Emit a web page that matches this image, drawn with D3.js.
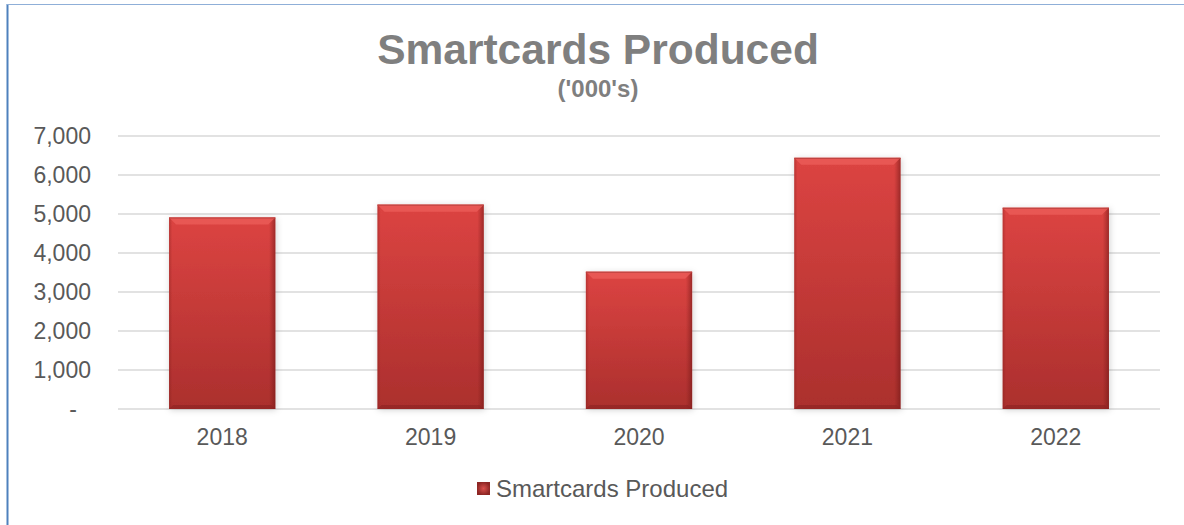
<!DOCTYPE html>
<html>
<head>
<meta charset="utf-8">
<script src="https://cdn.jsdelivr.net/npm/d3@7"></script>
<style>
html,body{margin:0;padding:0;background:#fff;}
svg{display:block;}
text{font-family:"Liberation Sans", Arial, sans-serif;}
</style>
</head>
<body>
<svg id="chart" width="1184" height="525"></svg>
<script>
const categories = ["2018", "2019", "2020", "2021", "2022"];
const values = [4910, 5240, 3520, 6440, 5160];
const yTicks = [0, 1000, 2000, 3000, 4000, 5000, 6000, 7000];
const seriesName = "Smartcards Produced";
const titleText = "Smartcards Produced";
const subtitleText = "('000's)";

const svg = d3.select("#chart");
const W = 1184, H = 525;
const m = {left: 118, right: 24, top: 136, bottom: 116};

const defs = svg.append("defs");
const grad = defs.append("linearGradient").attr("id","barGrad").attr("x1",0).attr("y1",0).attr("x2",0).attr("y2",1);
grad.append("stop").attr("offset","0%").attr("stop-color","#dc4442");
grad.append("stop").attr("offset","100%").attr("stop-color","#ab2f2d");
const hgrad = defs.append("linearGradient").attr("id","barH").attr("x1",0).attr("y1",0).attr("x2",1).attr("y2",0);
hgrad.append("stop").attr("offset","0%").attr("stop-color","#7a1a18").attr("stop-opacity",0.35);
hgrad.append("stop").attr("offset","3%").attr("stop-color","#7a1a18").attr("stop-opacity",0);
hgrad.append("stop").attr("offset","94%").attr("stop-color","#7a1a18").attr("stop-opacity",0);
hgrad.append("stop").attr("offset","100%").attr("stop-color","#6a1514").attr("stop-opacity",0.55);
const lgrad = defs.append("radialGradient").attr("id","legGrad");
lgrad.append("stop").attr("offset","0%").attr("stop-color","#d9504c");
lgrad.append("stop").attr("offset","100%").attr("stop-color","#8e2624");
const f = defs.append("filter").attr("id","shadow").attr("x","-20%").attr("y","-20%").attr("width","140%").attr("height","140%");
f.append("feDropShadow").attr("dx",1).attr("dy",1).attr("stdDeviation",3).attr("flood-color","#000").attr("flood-opacity",0.18);

// outer border
svg.append("line").attr("x1",7.5).attr("x2",7.5).attr("y1",4).attr("y2",H)
  .attr("stroke","#4f81bd").attr("stroke-width",2);
svg.append("line").attr("x1",7).attr("x2",W).attr("y1",4.5).attr("y2",4.5)
  .attr("stroke","#8fafd8").attr("stroke-width",1.2);

const x = d3.scaleBand().domain(categories).range([m.left, W - m.right]).paddingInner(0.49).paddingOuter(0.245);
const y = d3.scaleLinear().domain([0, 7000]).range([H - m.bottom, m.top]);

// gridlines
svg.append("g").selectAll("line").data(yTicks).join("line")
  .attr("x1", m.left).attr("x2", W - m.right)
  .attr("y1", d => y(d)).attr("y2", d => y(d))
  .attr("stroke", "#d9d9d9").attr("stroke-width", 1.5);

// y axis labels
const yAxis = d3.axisLeft(y).tickValues(yTicks).tickSize(0).tickPadding(0)
  .tickFormat(d => d === 0 ? "-" : d3.format(",")(d));
const ya = svg.append("g").attr("transform", `translate(91,0)`).call(yAxis);
ya.select(".domain").remove();
ya.selectAll("text").attr("font-size", 23).attr("fill", "#595959")
  .attr("font-family", "Liberation Sans, Arial, sans-serif")
  .attr("dx", d => d === 0 ? -14 : 0);

// bars
const bars = svg.append("g").selectAll("g").data(categories).join("g");
bars.append("rect")
  .attr("x", d => x(d)).attr("width", x.bandwidth())
  .attr("y", (d,i) => y(values[i])).attr("height", (d,i) => y(0) - y(values[i]))
  .attr("fill", "url(#barGrad)").attr("filter","url(#shadow)");
bars.append("rect")
  .attr("x", d => x(d)).attr("width", x.bandwidth())
  .attr("y", (d,i) => y(values[i])).attr("height", (d,i) => y(0) - y(values[i]))
  .attr("fill", "url(#barH)");
// top bevel
bars.append("path")
  .attr("d", (d,i) => {
    const x0 = x(d), x1 = x(d) + x.bandwidth(), t = y(values[i]), b = 7;
    return `M${x0},${t}L${x1},${t}L${x1-b},${t+b}L${x0+b},${t+b}Z`;
  })
  .attr("fill", "#ea5b57").attr("opacity", 0.85);
bars.append("line")
  .attr("x1", d => x(d)).attr("x2", d => x(d) + x.bandwidth())
  .attr("y1", (d,i) => y(values[i]) + 0.5).attr("y2", (d,i) => y(values[i]) + 0.5)
  .attr("stroke", "#b8403d").attr("stroke-width", 1);
// bottom dark edge
bars.append("path")
  .attr("d", (d,i) => {
    const x0 = x(d), x1 = x(d) + x.bandwidth(), bt = y(0), b = 4;
    return `M${x0},${bt}L${x1},${bt}L${x1-b},${bt-b}L${x0+b},${bt-b}Z`;
  })
  .attr("fill", "#8a2321").attr("opacity", 0.6);

// x axis labels
const xAxis = d3.axisBottom(x).tickSize(0).tickPadding(0);
const xa = svg.append("g").attr("transform", `translate(0,${y(0) + 20})`).call(xAxis);
xa.select(".domain").remove();
xa.selectAll("text").attr("font-size", 23).attr("fill", "#595959")
  .attr("font-family", "Liberation Sans, Arial, sans-serif");

// title
svg.append("text").attr("x", 598).attr("y", 64).attr("text-anchor","middle")
  .attr("font-size", 42.5).attr("font-weight","bold").attr("fill","#7f7f7f").text(titleText);
svg.append("text").attr("x", 598).attr("y", 97).attr("text-anchor","middle")
  .attr("font-size", 24).attr("font-weight","bold").attr("fill","#7f7f7f").text(subtitleText);

// legend
const leg = svg.append("g");
leg.append("rect").attr("x", 477).attr("y", 482).attr("width", 13).attr("height", 13).attr("fill","url(#legGrad)");
leg.append("text").attr("x", 496).attr("y", 497).attr("font-size", 24).attr("fill","#595959").text(seriesName);
</script>
</body>
</html>
